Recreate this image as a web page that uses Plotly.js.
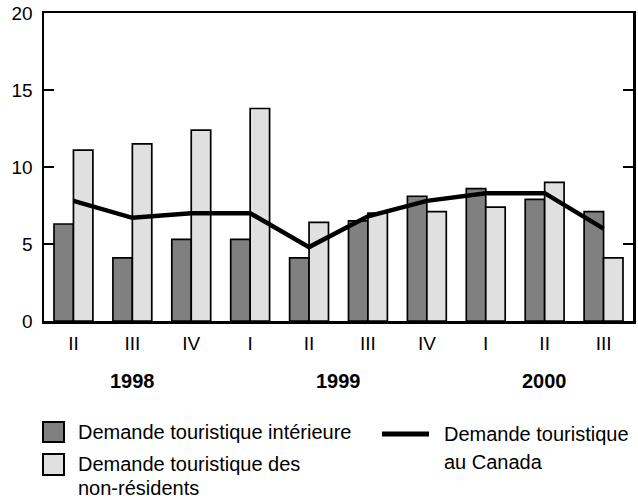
<!DOCTYPE html>
<html>
<head>
<meta charset="utf-8">
<script src="https://cdn.plot.ly/plotly-3.0.1.min.js"></script>
<style>
  html, body { margin: 0; padding: 0; background: #fff; }
  #chart { width: 638px; height: 500px; }
</style>
</head>
<body>
<div id="chart"></div>
<script>
// quarters shown under the bars
let quarters = ['II', 'III', 'IV', 'I', 'II', 'III', 'IV', 'I', 'II', 'III'];
let years = ['1998', '1999', '2000'];
let yearCenters = [1, 4.5, 8]; // category index under which each year is centred

// values (%)
let interieure = [6.3, 4.1, 5.3, 5.3, 4.1, 6.5, 8.1, 8.6, 7.9, 7.1];
let nonResidents = [11.1, 11.5, 12.4, 13.8, 6.4, 7.0, 7.1, 7.4, 9.0, 4.1];
let auCanada = [7.8, 6.7, 7.0, 7.0, 4.8, 6.8, 7.8, 8.3, 8.3, 6.0];

let W = 638, H = 500;
let margin = { l: 44, r: 5, t: 13, b: 179 };
let plotW = W - margin.l - margin.r;
let plotH = H - margin.t - margin.b;
// pixel -> paper coordinates (for the hand drawn legend)
function px(x) { return (x - margin.l) / plotW; }
function py(y) { return (H - margin.b - y) / plotH; }

let idx = quarters.map((q, i) => i);
let fontName = 'Liberation Sans, Arial, sans-serif';

let darkBars = {
    type: 'bar',
    x: idx,
    y: interieure,
    name: 'Demande touristique intérieure',
    marker: { color: '#808080', line: { color: '#000', width: 1.7 } },
    hoverinfo: 'y'
};

let lightBars = {
    type: 'bar',
    x: idx,
    y: nonResidents,
    name: 'Demande touristique des non-résidents',
    marker: { color: '#e0e0e0', line: { color: '#000', width: 1.7 } },
    hoverinfo: 'y'
};

let line = {
    type: 'scatter',
    mode: 'lines',
    x: idx,
    y: auCanada,
    name: 'Demande touristique au Canada',
    line: { color: '#000', width: 4.5 },
    hoverinfo: 'y'
};

let annotations = years.map((yr, i) => ({
    text: '<b>' + yr + '</b>',
    x: yearCenters[i], xref: 'x',
    y: py(381), yref: 'paper',
    xanchor: 'center', yanchor: 'middle',
    showarrow: false,
    font: { family: fontName, size: 20, color: '#000' }
}));

// legend texts
let legendTexts = [
    ['Demande touristique intérieure', 76, 432],
    ['Demande touristique des', 76, 464],
    ['non-résidents', 76, 488],
    ['Demande touristique', 442, 434],
    ['au Canada', 442, 462]
];
legendTexts.forEach(t => annotations.push({
    text: t[0],
    x: px(t[1]), xref: 'paper',
    y: py(t[2]), yref: 'paper',
    xanchor: 'left', yanchor: 'middle',
    showarrow: false,
    font: { family: fontName, size: 20, color: '#000' }
}));

let shapes = [
    { type: 'rect', xref: 'paper', yref: 'paper', x0: px(43), x1: px(64), y0: py(422), y1: py(442),
      fillcolor: '#808080', line: { color: '#000', width: 2 } },
    { type: 'rect', xref: 'paper', yref: 'paper', x0: px(43), x1: px(64), y0: py(454), y1: py(475),
      fillcolor: '#e0e0e0', line: { color: '#000', width: 2 } },
    { type: 'line', xref: 'paper', yref: 'paper', x0: px(382), x1: px(429), y0: py(434), y1: py(434),
      line: { color: '#000', width: 5 } }
];

let layout = {
    width: W,
    height: H,
    margin: margin,
    paper_bgcolor: '#fff',
    plot_bgcolor: '#fff',
    showlegend: false,
    barmode: 'group',
    bargap: 0.34,
    bargroupgap: 0,
    font: { family: fontName, size: 19, color: '#000' },
    xaxis: {
        range: [-0.5, 9.5],
        tickvals: idx,
        ticktext: quarters,
        ticks: '',
        showgrid: false,
        zeroline: false,
        showline: true,
        mirror: true,
        linecolor: '#000',
        linewidth: 2.5,
        ticklabelstandoff: 4,
        tickfont: { family: fontName, size: 19 }
    },
    yaxis: {
        range: [0, 20],
        tickvals: [0, 5, 10, 15, 20],
        ticks: 'inside',
        ticklen: 10,
        tickwidth: 2.5,
        tickcolor: '#000',
        showgrid: false,
        zeroline: false,
        showline: true,
        mirror: 'ticks',
        linecolor: '#000',
        linewidth: 2.5,
        ticklabelstandoff: 5,
        tickfont: { family: fontName, size: 19 }
    },
    annotations: annotations,
    shapes: shapes
};

Plotly.newPlot('chart', [darkBars, lightBars, line], layout, { displayModeBar: false, staticPlot: true });
</script>
</body>
</html>
